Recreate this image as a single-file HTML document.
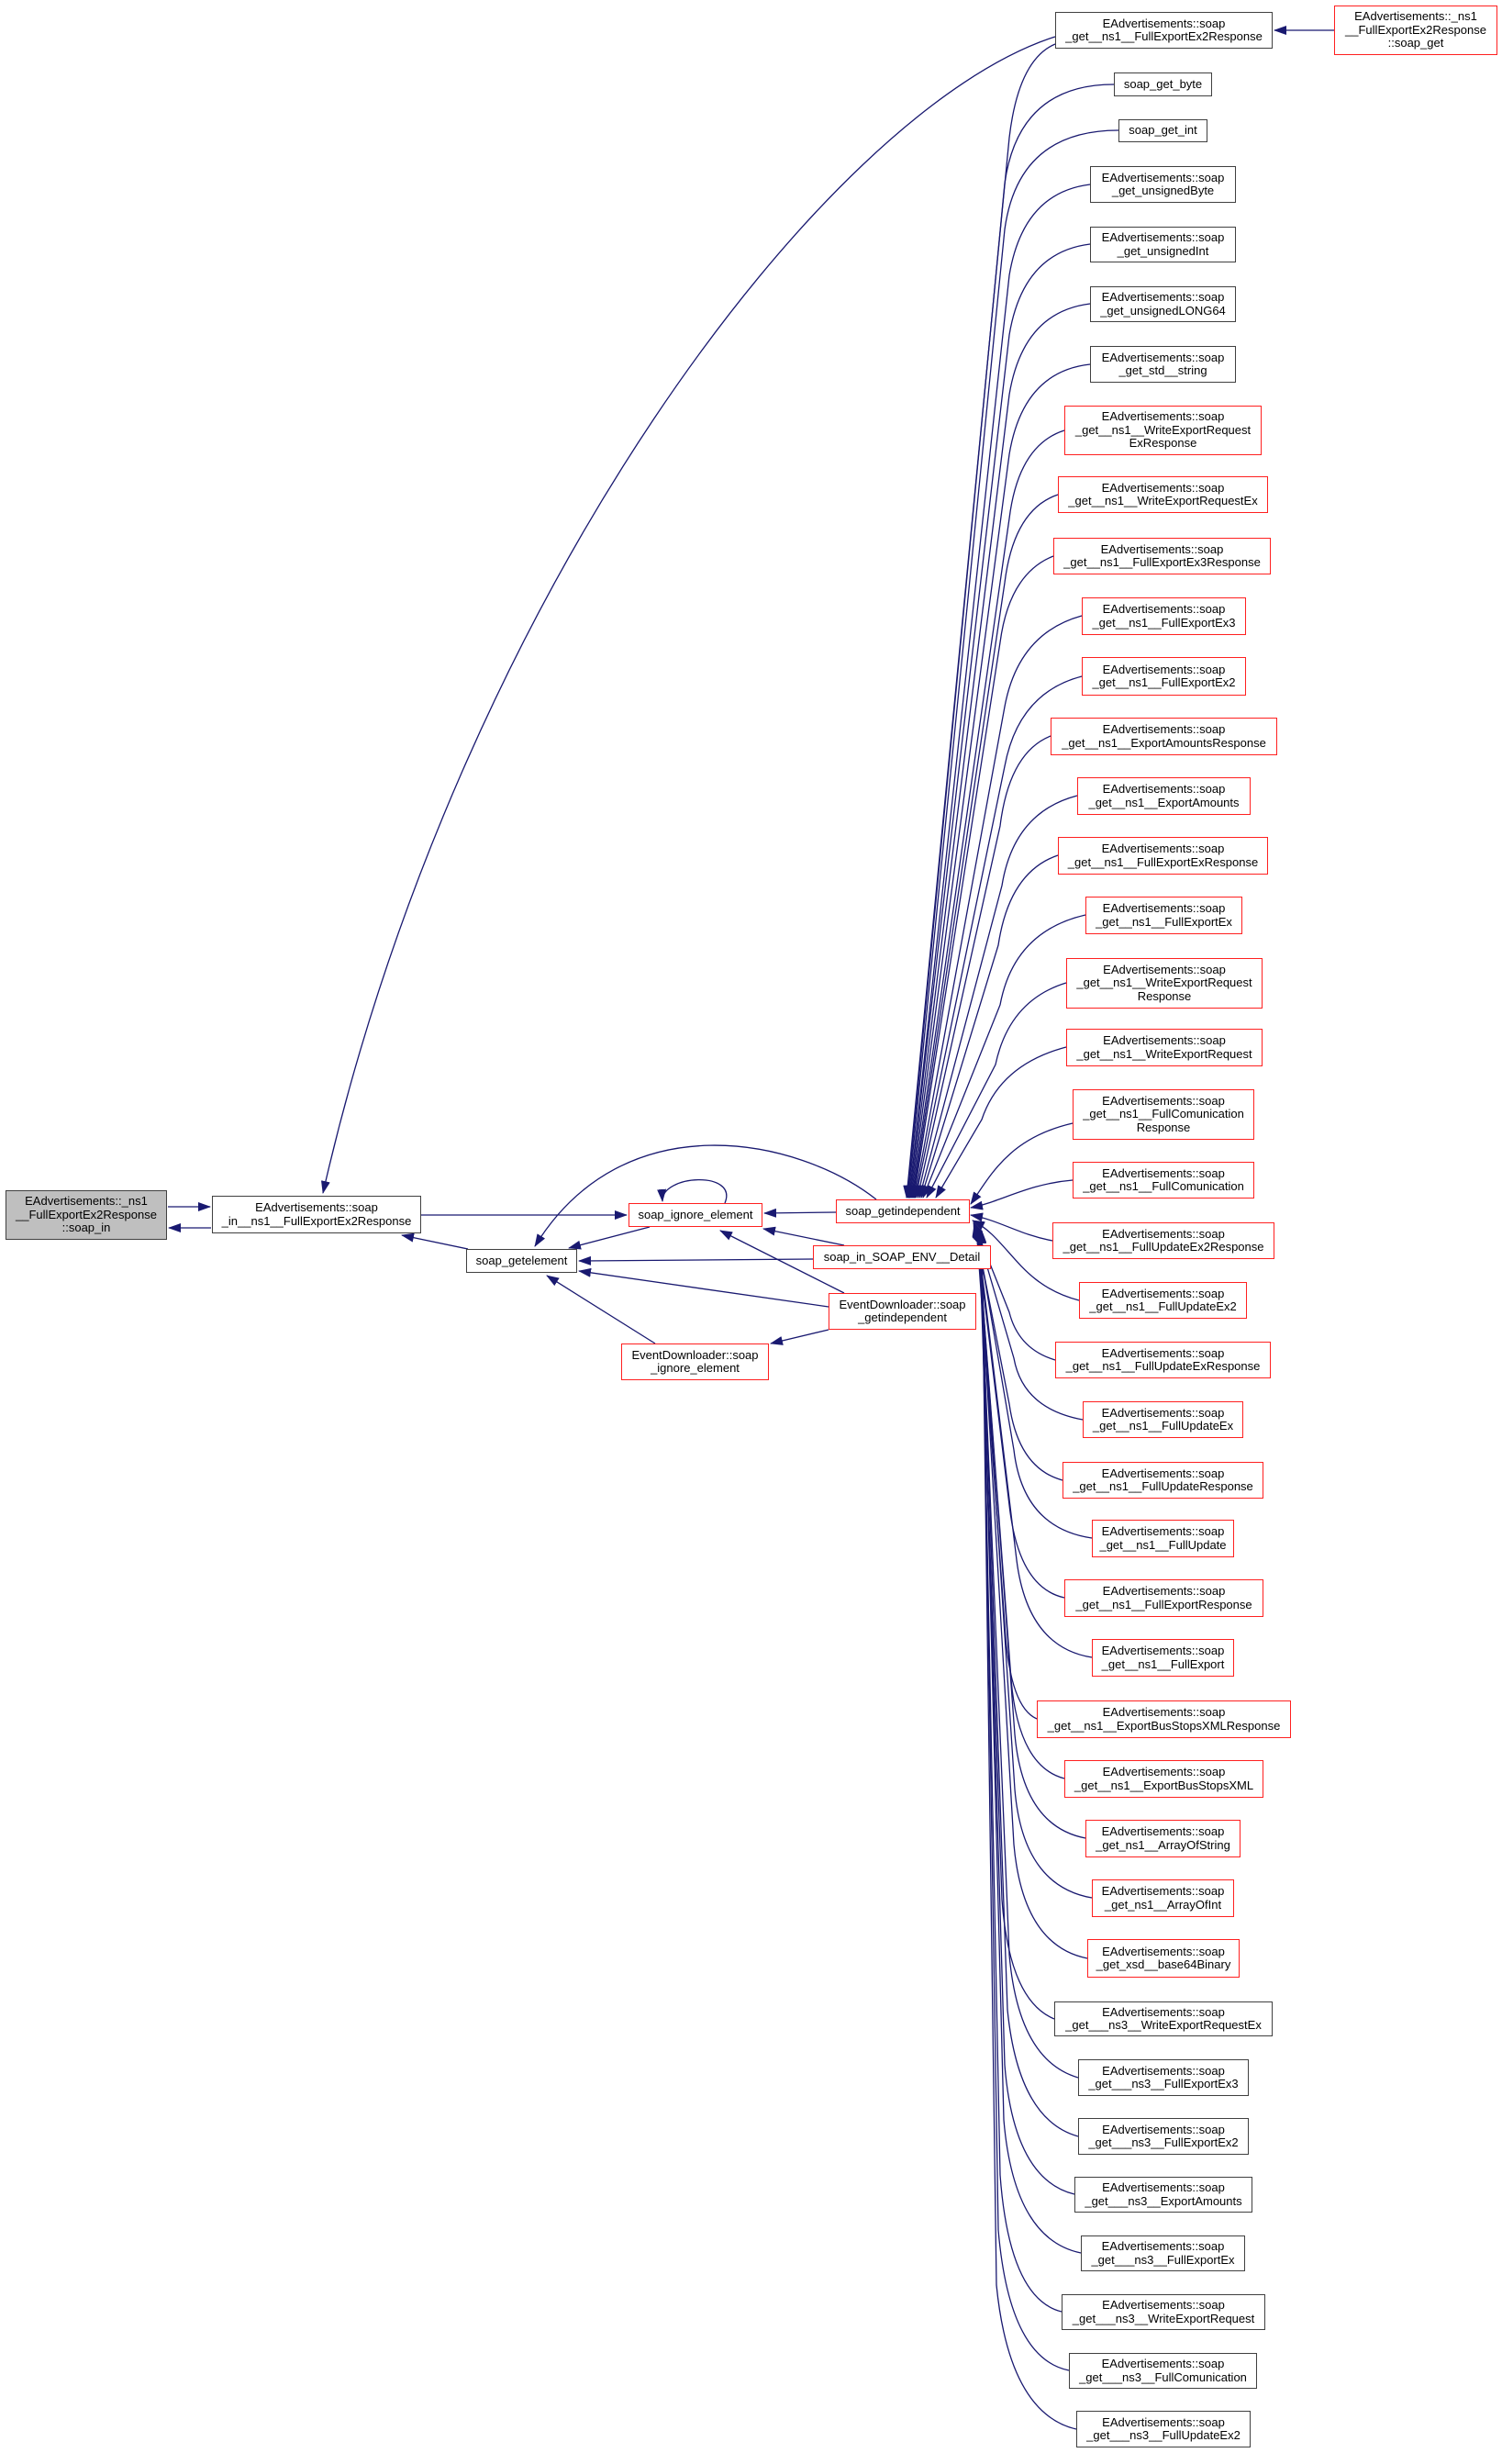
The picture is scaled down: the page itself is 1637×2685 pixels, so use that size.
<!DOCTYPE html>
<html><head><meta charset="utf-8"><style>
body{margin:0;width:1637px;height:2685px;background:#fff;position:relative;overflow:hidden;font-family:"Liberation Sans",sans-serif}
.n{position:absolute;box-sizing:border-box;display:flex;align-items:center;justify-content:center;text-align:center;font-size:13px;line-height:14.5px;color:#000;background:#fff;white-space:nowrap}
.k{border:1.5px solid #404040}
.r{border:1.5px solid #ff2020}
svg{position:absolute;left:0;top:0}
</style></head><body>
<svg width="1637" height="2685" viewBox="0 0 1637 2685">
<defs><marker id="a" markerWidth="14" markerHeight="10" refX="13" refY="5" orient="auto" markerUnits="userSpaceOnUse"><path d="M0,0 L14,5 L0,10 z" fill="#191970"/></marker></defs>
<g fill="none" stroke="#191970" stroke-width="1.3" marker-end="url(#a)">
<path d="M1150,48 Q1110,65 1100,150 L988,1305"/>
<path d="M1214,92 Q1110,92 1095,200 L989,1305"/>
<path d="M1219,142 Q1110,142 1095,250 L990,1305"/>
<path d="M1188,201 Q1115,210 1100,300 L991,1305"/>
<path d="M1188,266 Q1115,275 1100,365 L991,1305"/>
<path d="M1188,331 Q1115,340 1100,430 L992,1305"/>
<path d="M1188,397 Q1115,405 1100,495 L993,1305"/>
<path d="M1160,469 Q1110,485 1100,565 L994,1305"/>
<path d="M1153,539 Q1105,555 1095,635 L995,1305"/>
<path d="M1148,606 Q1100,625 1090,700 L996,1305"/>
<path d="M1179,671 Q1110,690 1095,770 L997,1305"/>
<path d="M1179,737 Q1110,755 1095,835 L998,1305"/>
<path d="M1145,802 Q1100,820 1090,900 L1000,1305"/>
<path d="M1174,867 Q1105,885 1092,965 L1002,1305"/>
<path d="M1153,932 Q1100,950 1088,1030 L1004,1305"/>
<path d="M1183,997 Q1105,1015 1090,1095 L1006,1305"/>
<path d="M1162,1071 Q1100,1090 1085,1160 L1010,1305"/>
<path d="M1162,1141 Q1090,1160 1070,1220 L1020,1305"/>
<path d="M1169,1224 C1100,1240 1080,1280 1058,1312"/>
<path d="M1169,1286 C1120,1290 1090,1310 1058,1316"/>
<path d="M1147,1352 C1110,1345 1090,1330 1058,1324"/>
<path d="M1176,1417 C1110,1400 1100,1350 1060,1330"/>
<path d="M1150,1482 Q1110,1470 1100,1430 L1061,1332"/>
<path d="M1180,1547 Q1115,1535 1105,1480 L1062,1333"/>
<path d="M1158,1613 Q1110,1600 1100,1530 L1062,1334"/>
<path d="M1190,1676 Q1115,1665 1105,1580 L1063,1334"/>
<path d="M1160,1741 Q1110,1730 1100,1640 L1063,1335"/>
<path d="M1190,1806 Q1120,1795 1108,1700 L1064,1335"/>
<path d="M1130,1873 Q1100,1860 1095,1770 L1064,1336"/>
<path d="M1160,1938 Q1110,1925 1102,1830 L1065,1336"/>
<path d="M1183,2003 Q1115,1990 1106,1890 L1065,1337"/>
<path d="M1190,2068 Q1115,2055 1106,1950 L1066,1337"/>
<path d="M1185,2134 Q1115,2120 1105,2010 L1066,1338"/>
<path d="M1149,2200 Q1100,2180 1092,2070 L1067,1338"/>
<path d="M1175,2264 Q1110,2245 1100,2130 L1067,1339"/>
<path d="M1175,2328 Q1110,2310 1098,2190 L1068,1339"/>
<path d="M1171,2391 Q1105,2375 1095,2250 L1068,1340"/>
<path d="M1178,2455 Q1105,2440 1094,2310 L1069,1340"/>
<path d="M1157,2519 Q1100,2505 1090,2370 L1069,1341"/>
<path d="M1165,2583 Q1100,2570 1088,2430 L1070,1341"/>
<path d="M1173,2647 Q1100,2630 1086,2490 L1070,1342"/>
<path d="M1454,33 L1389,33"/>
<path d="M1150,40 C900,120 500,650 352,1300"/>
<path d="M183,1315 L229,1315"/>
<path d="M230,1338 L184,1338"/>
<path d="M459,1324 L683,1324"/>
<path d="M510,1361 L438,1346"/>
<path d="M708,1337 L620,1360"/>
<path d="M911,1321 L833,1322"/>
<path d="M955,1307 C870,1240 680,1200 583,1358"/>
<path d="M790,1311 C805,1275 720,1280 722,1309"/>
<path d="M920,1357 L832,1339"/>
<path d="M886,1372 L631,1374"/>
<path d="M920,1409 L785,1341"/>
<path d="M903,1424 L631,1385"/>
<path d="M903,1449 L840,1464"/>
<path d="M714,1464 L596,1390"/>
</g>
</svg>
<div class="n k" style="left:6px;top:1297px;width:176px;height:54px;background:#bfbfbf">EAdvertisements::_ns1<br>__FullExportEx2Response<br>::soap_in</div>
<div class="n k" style="left:231px;top:1303px;width:228px;height:41px">EAdvertisements::soap<br>_in__ns1__FullExportEx2Response</div>
<div class="n r" style="left:685px;top:1311px;width:146px;height:26px">soap_ignore_element</div>
<div class="n r" style="left:911px;top:1307px;width:146px;height:26px">soap_getindependent</div>
<div class="n k" style="left:508px;top:1361px;width:121px;height:26px">soap_getelement</div>
<div class="n r" style="left:886px;top:1357px;width:194px;height:26px">soap_in_SOAP_ENV__Detail</div>
<div class="n r" style="left:903px;top:1409px;width:161px;height:40px">EventDownloader::soap<br>_getindependent</div>
<div class="n r" style="left:677px;top:1464px;width:161px;height:40px">EventDownloader::soap<br>_ignore_element</div>
<div class="n r" style="left:1454px;top:6px;width:178px;height:54px">EAdvertisements::_ns1<br>__FullExportEx2Response<br>::soap_get</div>
<div class="n k" style="left:1150px;top:13px;width:237px;height:40px">EAdvertisements::soap<br>_get__ns1__FullExportEx2Response</div>
<div class="n k" style="left:1214px;top:79px;width:107px;height:26px">soap_get_byte</div>
<div class="n k" style="left:1219px;top:130px;width:97px;height:25px">soap_get_int</div>
<div class="n k" style="left:1188px;top:181px;width:159px;height:40px">EAdvertisements::soap<br>_get_unsignedByte</div>
<div class="n k" style="left:1188px;top:247px;width:159px;height:39px">EAdvertisements::soap<br>_get_unsignedInt</div>
<div class="n k" style="left:1188px;top:312px;width:159px;height:39px">EAdvertisements::soap<br>_get_unsignedLONG64</div>
<div class="n k" style="left:1188px;top:377px;width:159px;height:40px">EAdvertisements::soap<br>_get_std__string</div>
<div class="n r" style="left:1160px;top:442px;width:215px;height:54px">EAdvertisements::soap<br>_get__ns1__WriteExportRequest<br>ExResponse</div>
<div class="n r" style="left:1153px;top:519px;width:229px;height:40px">EAdvertisements::soap<br>_get__ns1__WriteExportRequestEx</div>
<div class="n r" style="left:1148px;top:586px;width:237px;height:40px">EAdvertisements::soap<br>_get__ns1__FullExportEx3Response</div>
<div class="n r" style="left:1179px;top:651px;width:179px;height:41px">EAdvertisements::soap<br>_get__ns1__FullExportEx3</div>
<div class="n r" style="left:1179px;top:716px;width:179px;height:42px">EAdvertisements::soap<br>_get__ns1__FullExportEx2</div>
<div class="n r" style="left:1145px;top:782px;width:247px;height:41px">EAdvertisements::soap<br>_get__ns1__ExportAmountsResponse</div>
<div class="n r" style="left:1174px;top:847px;width:189px;height:41px">EAdvertisements::soap<br>_get__ns1__ExportAmounts</div>
<div class="n r" style="left:1153px;top:912px;width:229px;height:41px">EAdvertisements::soap<br>_get__ns1__FullExportExResponse</div>
<div class="n r" style="left:1183px;top:977px;width:171px;height:41px">EAdvertisements::soap<br>_get__ns1__FullExportEx</div>
<div class="n r" style="left:1162px;top:1044px;width:214px;height:55px">EAdvertisements::soap<br>_get__ns1__WriteExportRequest<br>Response</div>
<div class="n r" style="left:1162px;top:1121px;width:214px;height:41px">EAdvertisements::soap<br>_get__ns1__WriteExportRequest</div>
<div class="n r" style="left:1169px;top:1187px;width:198px;height:55px">EAdvertisements::soap<br>_get__ns1__FullComunication<br>Response</div>
<div class="n r" style="left:1169px;top:1266px;width:198px;height:40px">EAdvertisements::soap<br>_get__ns1__FullComunication</div>
<div class="n r" style="left:1147px;top:1332px;width:242px;height:40px">EAdvertisements::soap<br>_get__ns1__FullUpdateEx2Response</div>
<div class="n r" style="left:1176px;top:1397px;width:183px;height:40px">EAdvertisements::soap<br>_get__ns1__FullUpdateEx2</div>
<div class="n r" style="left:1150px;top:1462px;width:235px;height:40px">EAdvertisements::soap<br>_get__ns1__FullUpdateExResponse</div>
<div class="n r" style="left:1180px;top:1527px;width:175px;height:40px">EAdvertisements::soap<br>_get__ns1__FullUpdateEx</div>
<div class="n r" style="left:1158px;top:1593px;width:219px;height:40px">EAdvertisements::soap<br>_get__ns1__FullUpdateResponse</div>
<div class="n r" style="left:1190px;top:1656px;width:155px;height:41px">EAdvertisements::soap<br>_get__ns1__FullUpdate</div>
<div class="n r" style="left:1160px;top:1721px;width:217px;height:41px">EAdvertisements::soap<br>_get__ns1__FullExportResponse</div>
<div class="n r" style="left:1190px;top:1786px;width:155px;height:41px">EAdvertisements::soap<br>_get__ns1__FullExport</div>
<div class="n r" style="left:1130px;top:1853px;width:277px;height:41px">EAdvertisements::soap<br>_get__ns1__ExportBusStopsXMLResponse</div>
<div class="n r" style="left:1160px;top:1918px;width:217px;height:41px">EAdvertisements::soap<br>_get__ns1__ExportBusStopsXML</div>
<div class="n r" style="left:1183px;top:1983px;width:169px;height:41px">EAdvertisements::soap<br>_get_ns1__ArrayOfString</div>
<div class="n r" style="left:1190px;top:2048px;width:155px;height:41px">EAdvertisements::soap<br>_get_ns1__ArrayOfInt</div>
<div class="n r" style="left:1185px;top:2113px;width:166px;height:42px">EAdvertisements::soap<br>_get_xsd__base64Binary</div>
<div class="n k" style="left:1149px;top:2181px;width:238px;height:38px">EAdvertisements::soap<br>_get___ns3__WriteExportRequestEx</div>
<div class="n k" style="left:1175px;top:2244px;width:186px;height:40px">EAdvertisements::soap<br>_get___ns3__FullExportEx3</div>
<div class="n k" style="left:1175px;top:2308px;width:186px;height:40px">EAdvertisements::soap<br>_get___ns3__FullExportEx2</div>
<div class="n k" style="left:1171px;top:2372px;width:194px;height:39px">EAdvertisements::soap<br>_get___ns3__ExportAmounts</div>
<div class="n k" style="left:1178px;top:2436px;width:179px;height:39px">EAdvertisements::soap<br>_get___ns3__FullExportEx</div>
<div class="n k" style="left:1157px;top:2500px;width:222px;height:39px">EAdvertisements::soap<br>_get___ns3__WriteExportRequest</div>
<div class="n k" style="left:1165px;top:2564px;width:205px;height:39px">EAdvertisements::soap<br>_get___ns3__FullComunication</div>
<div class="n k" style="left:1173px;top:2627px;width:190px;height:40px">EAdvertisements::soap<br>_get___ns3__FullUpdateEx2</div>
</body></html>
